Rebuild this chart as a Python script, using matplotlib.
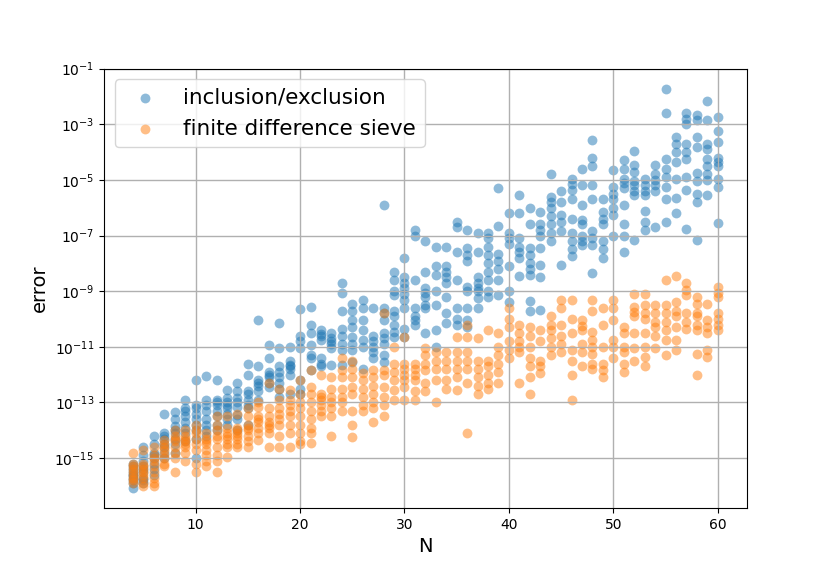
import matplotlib
matplotlib.use("Agg")
import matplotlib.pyplot as plt
import numpy as np

# N values, and log10 of the error for each trial at that N
N_values = list(range(4, 61))

incl_excl_exp = [
    [-15.2, -15.4, -15.5, -15.6, -15.7, -15.8, -15.9, -16.07, -15.3, -15.6],  # 4
    [-14.6, -14.9, -15.1, -15.3, -15.5, -15.7, -15.8, -15.4, -15.9],  # 5
    [-14.2, -14.5, -14.8, -15.0, -15.2, -15.4, -15.6, -14.9],  # 6
    [-13.4, -14.1, -14.3, -14.5, -14.8, -15.0, -14.6, -14.2],  # 7
    [-13.35, -13.6, -13.85, -14.0, -14.3, -14.5, -14.8, -14.1],  # 8
    [-12.9, -13.2, -13.5, -13.7, -13.9, -14.1, -14.4, -13.3],  # 9
    [-12.2, -13.2, -13.4, -13.6, -13.8, -14.0, -15.0, -13.1, -14.3],  # 10
    [-12.05, -13.1, -13.3, -13.6, -13.8, -14.0, -14.2, -12.9],  # 11
    [-12.2, -12.9, -13.1, -13.3, -13.5, -13.8, -13.0, -14.0],  # 12
    [-12.55, -12.85, -13.0, -13.1, -13.4, -13.6, -13.8, -13.2],  # 13
    [-12.3, -12.85, -13.0, -13.15, -13.45, -13.6, -14.0, -12.6],  # 14
    [-11.6, -12.0, -12.6, -12.7, -12.9, -13.1, -13.8, -13.2],  # 15
    [-10.05, -11.7, -12.2, -12.4, -12.6, -12.9, -12.3],  # 16
    [-10.95, -11.4, -11.9, -12.0, -12.1, -12.3, -12.45],  # 17
    [-10.15, -11.05, -11.7, -11.9, -12.1, -12.3, -12.5, -12.8],  # 18
    [-11.0, -11.5, -11.65, -11.8, -12.0, -12.7, -11.7],  # 19
    [-9.65, -10.6, -10.8, -11.05, -12.2, -12.5, -12.7],  # 20
    [-9.58, -10.2, -10.5, -10.95, -11.3, -11.4, -11.85],  # 21
    [-10.4, -10.55, -10.75, -11.4, -11.6, -11.7, -10.6],  # 22
    [-10.5, -10.7, -10.9, -11.05, -11.66, -10.8],  # 23
    [-8.7, -9.05, -9.7, -10.35, -10.6, -10.9, -11.1, -11.66],  # 24
    [-9.45, -9.7, -10.05, -10.3, -10.65, -10.9, -11.1, -11.55],  # 25
    [-9.3, -9.6, -10.05, -10.4, -10.75, -11.0, -11.8],  # 26
    [-9.6, -10.6, -10.8, -11.0, -11.2, -11.4],  # 27
    [-5.9, -9.6, -9.8, -10.05, -10.5, -10.7, -10.9, -11.3, -11.55],  # 28
    [-8.3, -8.6, -9.0, -9.15, -9.7, -9.9, -10.2, -10.45, -10.65],  # 29
    [-7.8, -8.5, -8.7, -8.9, -9.1, -9.3, -9.6, -10.35, -10.65],  # 30
    [-6.8, -7.0, -8.6, -9.6, -9.9, -10.05, -10.2],  # 31
    [-7.2, -8.3, -8.9, -9.05, -9.2, -9.5, -9.6, -10.5],  # 32
    [-7.4, -8.1, -8.4, -9.0, -9.5, -10.4, -11.0],  # 33
    [-7.4, -8.1, -8.3, -8.5, -8.7, -9.2, -9.8, -10.15],  # 34
    [-6.5, -6.7, -7.6, -8.6, -9.6, -10.0, -10.2],  # 35
    [-6.8, -7.45, -7.7, -7.9, -8.85, -9.0, -9.6, -10.05, -10.3],  # 36
    [-6.9, -7.6, -8.5, -8.7, -8.9, -9.0, -9.25, -9.6],  # 37
    [-6.9, -7.1, -7.4, -7.7, -8.0, -8.3, -8.6, -9.0, -9.2],  # 38
    [-5.3, -6.65, -7.65, -7.9, -8.2, -8.6, -9.15],  # 39
    [-6.2, -6.9, -7.1, -7.3, -8.1, -9.0, -9.4],  # 40
    [-5.55, -6.2, -7.1, -7.4, -7.6, -7.8, -8.45],  # 41
    [-6.0, -6.6, -7.45, -7.7, -8.0, -8.2, -8.4, -9.35, -9.7],  # 42
    [-6.15, -6.6, -6.8, -7.0, -7.45, -8.05, -8.5, -9.68],  # 43
    [-4.8, -5.6, -5.8, -6.0, -6.3, -6.6, -6.9, -7.2],  # 44
    [-5.4, -5.8, -6.25, -6.5, -6.85, -8.05],  # 45
    [-4.95, -5.15, -5.35, -5.7, -6.4, -6.9, -7.2, -7.5, -7.75],  # 46
    [-4.6, -5.2, -5.9, -6.45, -6.6, -7.0, -7.2, -7.35],  # 47
    [-3.57, -4.2, -4.5, -5.2, -5.7, -6.85, -7.1, -7.35, -8.35],  # 48
    [-5.7, -6.15, -6.4, -6.6, -7.2, -7.5, -7.8],  # 49
    [-4.65, -5.25, -5.5, -5.7, -6.0, -6.25, -7.0],  # 50
    [-4.3, -4.6, -4.95, -5.1, -5.3, -5.9, -6.6, -7.0, -7.6],  # 51
    [-3.95, -4.45, -4.7, -5.05, -5.2, -5.4, -5.55, -7.15],  # 52
    [-4.95, -5.2, -5.4, -5.55, -6.1, -6.5, -6.8],  # 53
    [-4.45, -4.8, -5.0, -5.2, -5.4, -6.7],  # 54
    [-1.72, -2.6, -4.25, -4.6, -4.9, -5.25, -5.7, -6.5],  # 55
    [-3.45, -3.7, -4.0, -4.35, -4.95, -5.65, -6.2],  # 56
    [-2.6, -2.8, -3.0, -3.7, -4.0, -4.25, -4.9, -5.35, -6.75],  # 57
    [-2.65, -2.85, -3.45, -3.8, -4.75, -5.05, -5.5, -5.8, -7.15],  # 58
    [-2.15, -2.85, -3.7, -3.9, -4.25, -4.5, -4.8, -5.0, -5.55],  # 59
    [-2.75, -3.25, -3.65, -4.2, -4.35, -4.5, -4.95, -5.25, -6.55],  # 60
]

sieve_exp = [
    [-14.8, -15.2, -15.4, -15.5, -15.6, -15.7, -15.8, -15.9, -15.3],  # 4
    [-14.7, -15.2, -15.3, -15.4, -15.5, -15.6, -15.7, -15.9, -16.0],  # 5
    [-14.6, -14.9, -15.1, -15.3, -15.5, -15.7, -15.9, -16.0, -15.0],  # 6
    [-14.35, -14.5, -14.7, -14.9, -15.0, -15.2, -15.3, -14.6],  # 7
    [-14.0, -14.2, -14.4, -14.6, -14.8, -15.0, -15.5, -14.3],  # 8
    [-14.0, -14.2, -14.4, -14.6, -14.8, -15.1, -14.3, -14.5],  # 9
    [-13.8, -14.1, -14.3, -14.5, -14.7, -15.2, -15.5, -14.0],  # 10
    [-14.1, -14.3, -14.5, -14.7, -14.9, -15.1, -15.3, -14.4],  # 11
    [-13.5, -13.8, -14.0, -14.3, -14.6, -14.9, -15.1, -15.5, -14.2],  # 12
    [-13.5, -13.9, -14.1, -14.3, -14.5, -14.6, -14.95, -14.2],  # 13
    [-13.4, -13.9, -14.1, -14.3, -14.5, -14.6, -14.2, -14.0],  # 14
    [-13.2, -13.5, -13.8, -14.0, -14.2, -14.4, -14.6, -13.9],  # 15
    [-13.0, -13.15, -13.5, -13.7, -13.9, -14.1, -14.35, -13.6],  # 16
    [-12.3, -13.2, -13.5, -13.7, -13.9, -14.1, -14.6, -13.8],  # 17
    [-12.5, -12.9, -13.2, -13.4, -13.6, -13.8, -14.2, -14.6],  # 18
    [-12.55, -12.9, -13.1, -13.3, -13.5, -13.8, -14.1, -14.6],  # 19
    [-12.2, -12.7, -13.0, -13.2, -13.5, -13.8, -14.1, -14.4, -14.5],  # 20
    [-11.85, -12.45, -12.7, -13.0, -13.3, -13.6, -13.9, -14.1, -14.45],  # 21
    [-12.0, -12.7, -12.9, -13.1, -13.3, -13.5, -12.8],  # 22
    [-12.1, -12.5, -12.8, -13.0, -13.2, -13.5, -14.2],  # 23
    [-11.4, -11.85, -12.1, -12.5, -12.8, -13.0, -13.3],  # 24
    [-11.5, -11.8, -12.1, -12.45, -12.7, -13.3, -13.8, -14.25],  # 25
    [-11.95, -12.2, -12.5, -12.8, -13.1, -13.3],  # 26
    [-11.85, -12.1, -12.4, -12.7, -13.0, -13.2, -13.7],  # 27
    [-9.8, -11.85, -12.0, -12.45, -12.8, -13.1, -13.5],  # 28
    [-11.0, -11.6, -11.9, -12.2, -12.55, -12.9],  # 29
    [-10.65, -11.6, -11.8, -12.0, -12.2, -12.45, -12.9],  # 30
    [-11.6, -11.8, -12.0, -12.2, -12.6, -12.9],  # 31
    [-11.05, -11.3, -11.6, -11.85, -12.3, -12.6],  # 32
    [-11.2, -11.5, -11.8, -12.2, -13.0],  # 33
    [-11.2, -11.5, -11.8, -12.2, -12.5],  # 34
    [-10.65, -11.2, -11.5, -11.8, -12.1, -12.55],  # 35
    [-10.2, -10.65, -11.2, -11.5, -11.8, -12.3, -14.1],  # 36
    [-10.7, -11.5, -11.8, -12.1, -12.4, -12.7],  # 37
    [-10.4, -11.5, -11.7, -12.0, -12.3, -12.5],  # 38
    [-10.5, -11.0, -11.3, -11.6, -11.9, -12.3],  # 39
    [-9.6, -10.0, -10.3, -10.8, -11.1, -11.4],  # 40
    [-10.2, -10.5, -10.8, -11.0, -11.2, -12.3],  # 41
    [-10.3, -10.6, -11.0, -11.4, -11.7, -12.1, -12.7],  # 42
    [-10.4, -10.8, -11.5, -11.7, -11.95],  # 43
    [-9.9, -10.2, -10.4, -10.7, -11.0, -11.3],  # 44
    [-9.3, -9.6, -10.2, -10.6, -10.9, -11.2],  # 45
    [-9.3, -10.0, -10.5, -11.1, -11.5, -12.0, -12.9],  # 46
    [-10.05, -10.25, -10.4, -10.9, -11.2, -11.7],  # 47
    [-9.3, -9.7, -10.45, -10.75, -11.0, -11.25, -11.6, -11.8],  # 48
    [-9.6, -10.2, -11.0, -11.6, -11.85, -12.1],  # 49
    [-9.3, -9.6, -10.05, -10.75, -11.0, -11.4],  # 50
    [-10.3, -10.5, -11.0, -11.2, -11.6, -11.9],  # 51
    [-9.1, -9.55, -9.75, -9.9, -10.5, -11.05, -11.5],  # 52
    [-9.1, -9.5, -9.8, -10.0, -10.5, -11.0, -11.35, -11.7],  # 53
    [-9.5, -9.8, -10.1, -10.3, -10.6, -11.05],  # 54
    [-8.6, -9.5, -9.8, -10.1, -10.4, -10.75, -11.3],  # 55
    [-8.45, -9.4, -9.7, -9.9, -10.3, -10.75, -11.1],  # 56
    [-8.7, -8.95, -9.15, -9.8, -10.1, -10.35],  # 57
    [-9.2, -9.45, -9.8, -9.9, -10.2, -10.4, -11.25, -12.0],  # 58
    [-9.45, -10.05, -10.3, -10.5, -11.1, -11.35],  # 59
    [-8.85, -9.05, -9.2, -9.8, -10.0, -10.2, -10.4],  # 60
]


def flatten(exps):
    xs, ys = [], []
    for n, row in zip(N_values, exps):
        for e in row:
            xs.append(n)
            ys.append(10.0 ** e)
    return np.array(xs), np.array(ys)


x1, y1 = flatten(incl_excl_exp)
x2, y2 = flatten(sieve_exp)

fig, ax = plt.subplots(figsize=(8.3, 5.71), dpi=100)
ax.scatter(x1, y1, s=50, alpha=0.5, linewidths=0, label="inclusion/exclusion")
ax.scatter(x2, y2, s=50, alpha=0.5, linewidths=0, label="finite difference sieve")
ax.set_yscale("log")
ax.set_ylim(10 ** -16.8, 10 ** -0.995)
ax.set_xlabel("N", fontsize=14)
ax.set_ylabel("error", fontsize=14)
ax.grid(True, linewidth=1)
ax.legend(loc="upper left", fontsize=15.5)

fig.savefig("out.png", dpi=100)
